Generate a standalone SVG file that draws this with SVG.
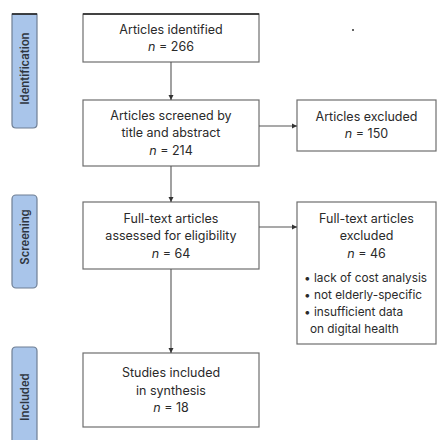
<svg xmlns="http://www.w3.org/2000/svg" width="437" height="440" viewBox="0 0 437 440">
<defs>
<style>
.box{fill:#fff;stroke:#6e6e6e;stroke-width:1.2}
.lab{fill:#a9c5ea;stroke:#6f7f94;stroke-width:1.2}
.t{font-family:Inter,"Noto Sans",sans-serif;font-size:12.5px;fill:#2a2a2a;text-anchor:middle}
.tl{font-family:Inter,"Noto Sans",sans-serif;font-size:11.8px;fill:#2a2a2a}
.s{font-family:Inter,"Noto Sans",sans-serif;font-size:11.3px;font-weight:600;fill:#2f3640;text-anchor:middle}
.c{stroke:#555;stroke-width:1.1;fill:none;marker-end:url(#ah)}
</style>
<marker id="ah" markerWidth="6" markerHeight="6" refX="5" refY="3" orient="auto" markerUnits="userSpaceOnUse">
<path d="M0,0.5 L5,3 L0,5.5 Z" fill="#333"/>
</marker>
</defs>
<rect width="437" height="440" fill="#fff"/>
<g id="stage-identification">
<path class="lab" d="M12,14 H37 V124 Q37,128 33,128 H16 Q12,128 12,124 Z"/>
<line x1="12" y1="14" x2="37" y2="14" stroke="#222" stroke-width="1.6"/>
<text class="s" transform="translate(28.5,68.5) rotate(-90)">Identification</text>
</g>
<g id="stage-screening">
<rect class="lab" x="12" y="195" width="25" height="93" rx="4"/>
<text class="s" transform="translate(28.5,237) rotate(-90)">Screening</text>
</g>
<g id="stage-included">
<path class="lab" d="M12,445 V351 Q12,347 16,347 H33 Q37,347 37,351 V445"/>
<text class="s" transform="translate(28.5,397) rotate(-90)">Included</text>
</g>
<g id="identified">
<rect class="box" x="83" y="14" width="176" height="48"/>
<line x1="83" y1="14" x2="259" y2="14" stroke="#222" stroke-width="1.6"/>
<text class="t" x="171" y="34">Articles identified</text>
<text class="t" x="171" y="51"><tspan font-style="italic">n</tspan> = 266</text>
</g>
<g id="screened">
<rect class="box" x="83" y="100" width="176" height="66"/>
<text class="t" x="171" y="120">Articles screened by</text>
<text class="t" x="171" y="137">title and abstract</text>
<text class="t" x="171" y="155"><tspan font-style="italic">n</tspan> = 214</text>
</g>
<g id="excluded1">
<rect class="box" x="297" y="100" width="139" height="51"/>
<text class="t" x="366.5" y="121">Articles excluded</text>
<text class="t" x="366.5" y="138"><tspan font-style="italic">n</tspan> = 150</text>
</g>
<g id="fulltext">
<rect class="box" x="83" y="202" width="176" height="67"/>
<text class="t" x="171" y="223">Full-text articles</text>
<text class="t" x="171" y="240">assessed for eligibility</text>
<text class="t" x="171" y="258"><tspan font-style="italic">n</tspan> = 64</text>
</g>
<g id="excluded2">
<rect class="box" x="297" y="202" width="139" height="142"/>
<text class="t" x="366.5" y="223">Full-text articles</text>
<text class="t" x="366.5" y="240">excluded</text>
<text class="t" x="366.5" y="258"><tspan font-style="italic">n</tspan> = 46</text>
<text class="tl" x="304" y="282">• lack of cost analysis</text>
<text class="tl" x="304" y="299">• not elderly-specific</text>
<text class="tl" x="304" y="316">• insufficient data</text>
<text class="tl" x="310" y="333">on digital health</text>
</g>
<g id="included">
<rect class="box" x="83" y="353" width="176" height="74"/>
<text class="t" x="171" y="377">Studies included</text>
<text class="t" x="171" y="395">in synthesis</text>
<text class="t" x="171" y="412"><tspan font-style="italic">n</tspan> = 18</text>
</g>
<circle cx="353" cy="30" r="1" fill="#333"/>
<g id="connectors">
<line class="c" x1="171" y1="62" x2="171" y2="100"/>
<line class="c" x1="171" y1="166" x2="171" y2="202"/>
<line class="c" x1="171" y1="269" x2="171" y2="353"/>
<line class="c" x1="259" y1="126" x2="297" y2="126"/>
<line class="c" x1="259" y1="227" x2="297" y2="227"/>
</g>
</svg>
